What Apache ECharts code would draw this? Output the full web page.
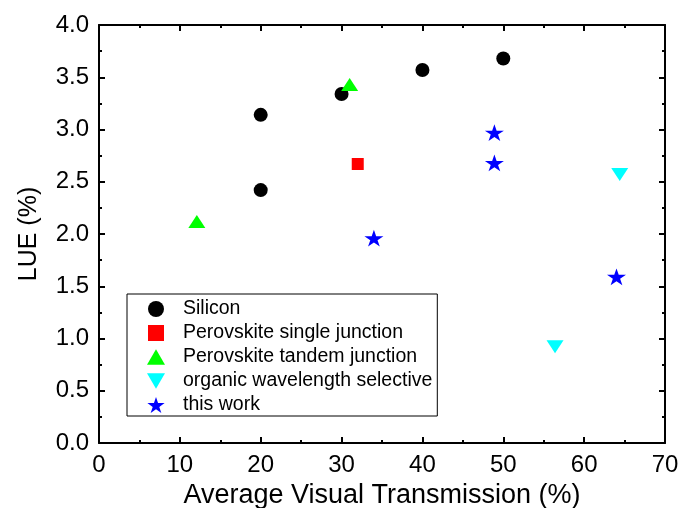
<!DOCTYPE html>
<html>
<head>
<meta charset="utf-8">
<script src="https://cdn.jsdelivr.net/npm/echarts@6/dist/echarts.min.js"></script>
<style>
  html, body { margin: 0; padding: 0; background: #fff; }
  #chart { width: 682px; height: 508px; }
</style>
</head>
<body>
<div id="chart"></div>
<script>
// 数据 (x: average visual transmission %, y: LUE %)
var silicon = [[20, 3.14], [20, 2.42], [30, 3.34], [40, 3.57], [50, 3.68]];
var perovskiteSingle = [[32.0, 2.67]];
var perovskiteTandem = [[12.1, 2.12], [31.0, 3.43]];
var organicSelective = [[56.4, 0.92], [64.4, 2.57]];
var thisWork = [[34.0, 1.96], [48.9, 2.97], [48.9, 2.68], [64.0, 1.59]];

var seriesNames = ['Silicon', 'Perovskite single junction', 'Perovskite tandem junction',
    'organic wavelength selective', 'this work'];

var starPath = 'path://M50,0 L61.8,35.4 L100,35.4 L69.1,57.3 L80.9,92.7 L50,70.8 L19.1,92.7 L30.9,57.3 L0,35.4 L38.2,35.4 Z';
var downTriPath = 'path://M0,0 L100,0 L50,86.6 Z';
var upTriPath = 'path://M50,0 L100,86.6 L0,86.6 Z';
var squarePath = 'path://M0,0 L100,0 L100,100 L0,100 Z';
var fontName = 'Liberation Sans';

var myChart = echarts.init(document.getElementById('chart'));

// 四边框坐标轴，刻度朝内
function frameAxis(pos, isX) {
    return {
        type: 'value',
        position: pos,
        min: 0,
        max: isX ? 70 : 4,
        interval: isX ? 10 : 0.5,
        axisLine: { show: true, onZero: false, lineStyle: { color: '#000', width: 2 } },
        axisTick: { show: true, inside: true, length: 6, lineStyle: { color: '#000', width: 2 } },
        minorTick: { show: true, splitNumber: 2, length: 3, lineStyle: { color: '#000', width: 2 } },
        splitLine: { show: false },
        axisLabel: { show: false }
    };
}

var xBottom = frameAxis('bottom', true);
xBottom.name = 'Average Visual Transmission (%)';
xBottom.nameLocation = 'middle';
xBottom.nameGap = 37;
xBottom.nameTextStyle = { fontFamily: fontName, fontSize: 27, color: '#000' };
xBottom.axisLabel = { show: true, margin: 10, fontFamily: fontName, fontSize: 24, color: '#000' };

var yLeft = frameAxis('left', false);
yLeft.name = 'LUE (%)';
yLeft.nameLocation = 'middle';
yLeft.nameGap = 57;
yLeft.nameTextStyle = { fontFamily: fontName, fontSize: 25, color: '#000' };
yLeft.axisLabel = {
    show: true, margin: 10, fontFamily: fontName, fontSize: 24, color: '#000',
    formatter: function (v) { return v.toFixed(1); }
};

var option = {
    animation: false,
    backgroundColor: '#fff',
    grid: { left: 99, right: 17, top: 25, bottom: 65, outerBoundsMode: 'none', containLabel: false },
    xAxis: [xBottom, frameAxis('top', true)],
    yAxis: [yLeft, frameAxis('right', false)],
    legend: {
        orient: 'vertical',
        left: 127,
        top: 294,
        padding: [5, 5, 1, 20],
        itemGap: 4,
        itemWidth: 18,
        itemHeight: 16,
        borderColor: '#000',
        borderWidth: 1,
        borderRadius: 0,
        textStyle: { fontFamily: fontName, fontSize: 19.5, lineHeight: 20, color: '#000', padding: [0, 0, 0, 13] },
        data: seriesNames
    },
    series: [
        {
            name: seriesNames[0], type: 'scatter', data: silicon,
            symbol: 'circle', symbolSize: 14, itemStyle: { color: '#000', opacity: 1 }
        },
        {
            name: seriesNames[1], type: 'scatter', data: perovskiteSingle,
            symbol: squarePath, symbolKeepAspect: true, symbolSize: 12,
            itemStyle: { color: '#ff0000', opacity: 1 }
        },
        {
            name: seriesNames[2], type: 'scatter', data: perovskiteTandem,
            symbol: upTriPath, symbolKeepAspect: true, symbolSize: [17, 15],
            itemStyle: { color: '#00ff00', opacity: 1 }
        },
        {
            name: seriesNames[3], type: 'scatter', data: organicSelective,
            symbol: downTriPath, symbolKeepAspect: true, symbolSize: [17, 15],
            itemStyle: { color: '#00ffff', opacity: 1 }
        },
        {
            name: seriesNames[4], type: 'scatter', data: thisWork,
            symbol: starPath, symbolKeepAspect: true, symbolSize: [19, 18],
            itemStyle: { color: '#0000ff', opacity: 1 }
        }
    ]
};
myChart.setOption(option);
</script>
</body>
</html>
